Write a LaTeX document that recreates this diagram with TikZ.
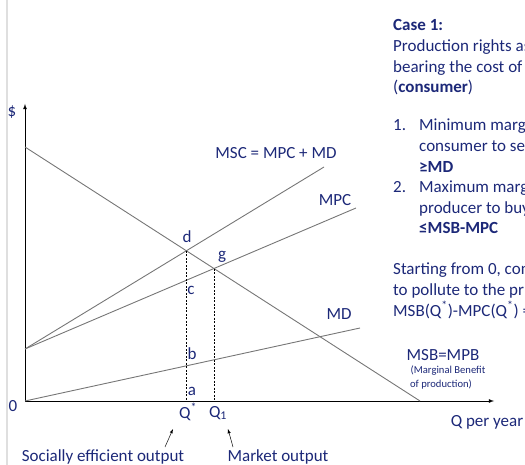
\documentclass[tikz,border=0pt]{standalone}
\usepackage{fontspec}
\setmainfont{Carlito}
\usepackage{tikz}
\usetikzlibrary{arrows}
\definecolor{navy}{RGB}{28,40,120}
\definecolor{curvegray}{RGB}{118,118,118}

\begin{document}
\begin{tikzpicture}[x=1pt,y=-1pt,
    curve/.style={curvegray,line width=0.9pt},
    guide/.style={dash pattern=on 2pt off 1.5pt,line width=0.45pt},
    lbl/.style={text=navy,font=\fontsize{17}{19}\selectfont,inner sep=0pt},
    small/.style={text=navy,font=\fontsize{10.6}{12}\selectfont,inner sep=0pt,align=left},
    note/.style={text=navy,font=\fontsize{17}{20.6}\selectfont,align=left,anchor=north west,inner sep=0pt}]
    \useasboundingbox (0,0) rectangle (525,465);
    \clip (0,0) rectangle (525,465);
    \draw[gray!25,line width=1.5pt] (7,0) to (7,465);
    % axes
    \coordinate (O) at (25,401);
    \coordinate (ytop) at (25,104);
    \coordinate (xend) at (494,401);
    \draw[line width=0.8pt,-latex] (O) to (ytop);
    \draw[line width=0.8pt,-latex] (O) to (xend);
    \node[lbl] (zero) at (13,406) {0};
    \node[lbl] (dollar) at (12,112) {\$};
    \node[lbl] (qyear) at (487,422) {Q per year};
    % curves
    \coordinate (msbL) at (25,147);
    \coordinate (msbR) at (420,401);
    \coordinate (base) at (25,349);
    \coordinate (mscR) at (324,167);
    \coordinate (mpcR) at (356,208);
    \coordinate (mdR) at (360,328);
    \draw[curve] (msbL) to (msbR);
    \draw[curve] (base) to (mscR);
    \draw[curve] (base) to (mpcR);
    \draw[curve] (O) to (mdR);
    \node[lbl] (msclab) at (276,153) {MSC = MPC + MD};
    \node[lbl] (mpclab) at (335,200) {MPC};
    \node[lbl] (mdlab) at (339,314) {MD};
    \node[lbl] (msblab) at (443,355) {MSB=MPB};
    \node[small] (mblab) at (448,371) {(Marginal Benefit};
    \node[small] (prodlab) at (441,384) {of production)};
    % optimum and market points
    \coordinate (d) at (intersection of msbL--msbR and base--mscR);
    \coordinate (g) at (intersection of msbL--msbR and base--mpcR);
    \draw[guide] (d) to (d |- O);
    \draw[guide] (g) to (g |- O);
    \node[lbl] (dlab) at (187,237) {d};
    \node[lbl] (glab) at (222,257) {g};
    \node[lbl] (clab) at (191,290) {c};
    \node[lbl] (blab) at (192,354) {b};
    \node[lbl] (alab) at (192,391) {a};
    \node[lbl] (qstar) at (188,412) {Q\textsuperscript{*}};
    \node[lbl] (qone) at (218,413) {Q\textsubscript{1}};
    % outputs
    \node[lbl] (soclab) at (103,457) {Socially efficient output};
    \node[lbl] (mktlab) at (278,457) {Market output};
    \coordinate (socfrom) at (165,447);
    \coordinate (socto) at (173,429);
    \coordinate (mktfrom) at (233,447);
    \coordinate (mktto) at (228,429);
    \draw[line width=0.5pt,-latex] (socfrom) to (socto);
    \draw[line width=0.5pt,-latex] (mktfrom) to (mktto);
    % case text
    \node[note] (case) at (393,19.5) {\textbf{Case 1:}\\
      Production rights as\\
      bearing the cost of\\
      (\textbf{consumer})};
    \node[note] (rules) at (393,119) {\makebox[26pt][l]{1.}Minimum marg\\
      \hspace*{26pt}consumer to se\\
      \hspace*{26pt}\textbf{≥MD}\\
      \makebox[26pt][l]{2.}Maximum marg\\
      \hspace*{26pt}producer to buy\\
      \hspace*{26pt}\textbf{≤MSB-MPC}};
    \node[note] (start) at (393,263) {Starting from 0, con\\
      to pollute to the pr\\
      MSB(Q\textsuperscript{*})-MPC(Q\textsuperscript{*}) =};
  \end{tikzpicture}
\end{document}
